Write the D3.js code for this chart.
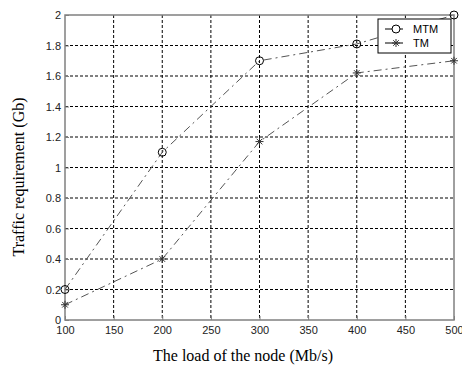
<!DOCTYPE html>
<html>
<head>
    <script src="https://d3js.org/d3.v7.min.js"></script>
    <style>
        body { margin: 0; background: #fff; }
    </style>
</head>
<body>
    <script>
        // data
        const loads = [100, 200, 300, 400, 500];
        const mtm = [0.2, 1.1, 1.7, 1.81, 2.0];
        const tm = [0.1, 0.4, 1.17, 1.62, 1.7];
        const xTicks = [100, 150, 200, 250, 300, 350, 400, 450, 500];
        const yTicks = [0, 0.2, 0.4, 0.6, 0.8, 1, 1.2, 1.4, 1.6, 1.8, 2];
        const seriesNames = ["MTM", "TM"];

        const width = 462, height = 369;
        const plotL = 65, plotR = 454, plotT = 15, plotB = 320;

        const svg = d3.select("body").append("svg")
            .attr("width", width)
            .attr("height", height);

        const x = d3.scaleLinear().domain([100, 500]).range([plotL, plotR]);
        const y = d3.scaleLinear().domain([0, 2]).range([plotB, plotT]);

        // dotted grid
        svg.append("g").selectAll("line")
            .data(xTicks.slice(1, -1))
            .enter().append("line")
            .attr("x1", d => x(d)).attr("x2", d => x(d))
            .attr("y1", plotT).attr("y2", plotB)
            .attr("stroke", "#000").attr("stroke-width", 1)
            .attr("stroke-dasharray", "3,2");
        svg.append("g").selectAll("line")
            .data(yTicks.slice(1, -1))
            .enter().append("line")
            .attr("x1", plotL).attr("x2", plotR)
            .attr("y1", d => y(d)).attr("y2", d => y(d))
            .attr("stroke", "#000").attr("stroke-width", 1)
            .attr("stroke-dasharray", "3,2");

        // frame
        svg.append("rect")
            .attr("x", plotL).attr("y", plotT)
            .attr("width", plotR - plotL).attr("height", plotB - plotT)
            .attr("fill", "none").attr("stroke", "#808080").attr("stroke-width", 1.5);

        // axes
        const xAxis = svg.append("g")
            .attr("transform", `translate(0,${plotB})`)
            .call(d3.axisBottom(x).tickValues(xTicks).tickSize(-4).tickPadding(6).tickFormat(d3.format("d")));
        const yAxis = svg.append("g")
            .attr("transform", `translate(${plotL},0)`)
            .call(d3.axisLeft(y).tickValues(yTicks).tickSize(-4).tickPadding(4).tickFormat(d => d));
        [xAxis, yAxis].forEach(a => {
            a.select(".domain").remove();
            a.selectAll(".tick line").attr("stroke", "#808080");
            a.selectAll("text")
                .attr("fill", "#222")
                .style("font-family", "Liberation Sans, Arial, sans-serif")
                .style("font-size", "11px");
        });

        // series lines
        const line = d3.line().x((d, i) => x(loads[i])).y(d => y(d));
        [mtm, tm].forEach(s => {
            svg.append("path")
                .attr("d", line(s))
                .attr("fill", "none")
                .attr("stroke", "#555")
                .attr("stroke-width", 1)
                .attr("stroke-dasharray", "8,4,2,4");
        });

        // markers
        svg.append("g").selectAll("circle")
            .data(mtm)
            .enter().append("circle")
            .attr("cx", (d, i) => x(loads[i]))
            .attr("cy", d => y(d))
            .attr("r", 4)
            .attr("fill", "none")
            .attr("stroke", "#000");

        function asterisk(g, cx, cy) {
            const r = 4, k = r * 0.7;
            g.append("path")
                .attr("d", `M${cx - r},${cy}H${cx + r}M${cx},${cy - r}V${cy + r}M${cx - k},${cy - k}L${cx + k},${cy + k}M${cx - k},${cy + k}L${cx + k},${cy - k}`)
                .attr("stroke", "#333").attr("stroke-width", 1).attr("fill", "none");
        }
        const starG = svg.append("g");
        tm.forEach((d, i) => asterisk(starG, x(loads[i]), y(d)));

        // legend
        const lg = svg.append("g");
        lg.append("rect")
            .attr("x", 378).attr("y", 19)
            .attr("width", 73).attr("height", 34)
            .attr("fill", "#fff").attr("stroke", "#000").attr("stroke-width", 1);
        seriesNames.forEach((n, i) => {
            const ly = 29 + i * 14;
            lg.append("line")
                .attr("x1", 385).attr("x2", 403)
                .attr("y1", ly).attr("y2", ly)
                .attr("stroke", "#000");
            if (i === 0) {
                lg.append("circle").attr("cx", 396).attr("cy", ly).attr("r", 4)
                    .attr("fill", "#fff").attr("stroke", "#000");
            } else {
                asterisk(lg, 396, ly);
            }
            lg.append("text")
                .attr("x", 413).attr("y", ly + 4)
                .style("font-family", "Liberation Sans, Arial, sans-serif")
                .style("font-size", "11px")
                .text(n);
        });

        // axis titles
        svg.append("text")
            .attr("x", 243).attr("y", 361)
            .attr("text-anchor", "middle")
            .style("font-family", "Liberation Serif, Times New Roman, serif")
            .style("font-size", "16px")
            .text("The load of the node (Mb/s)");
        svg.append("text")
            .attr("transform", "translate(24,177) rotate(-90)")
            .attr("text-anchor", "middle")
            .style("font-family", "Liberation Serif, Times New Roman, serif")
            .style("font-size", "16px")
            .text("Traffic requirement (Gb)");
    </script>
</body>
</html>
